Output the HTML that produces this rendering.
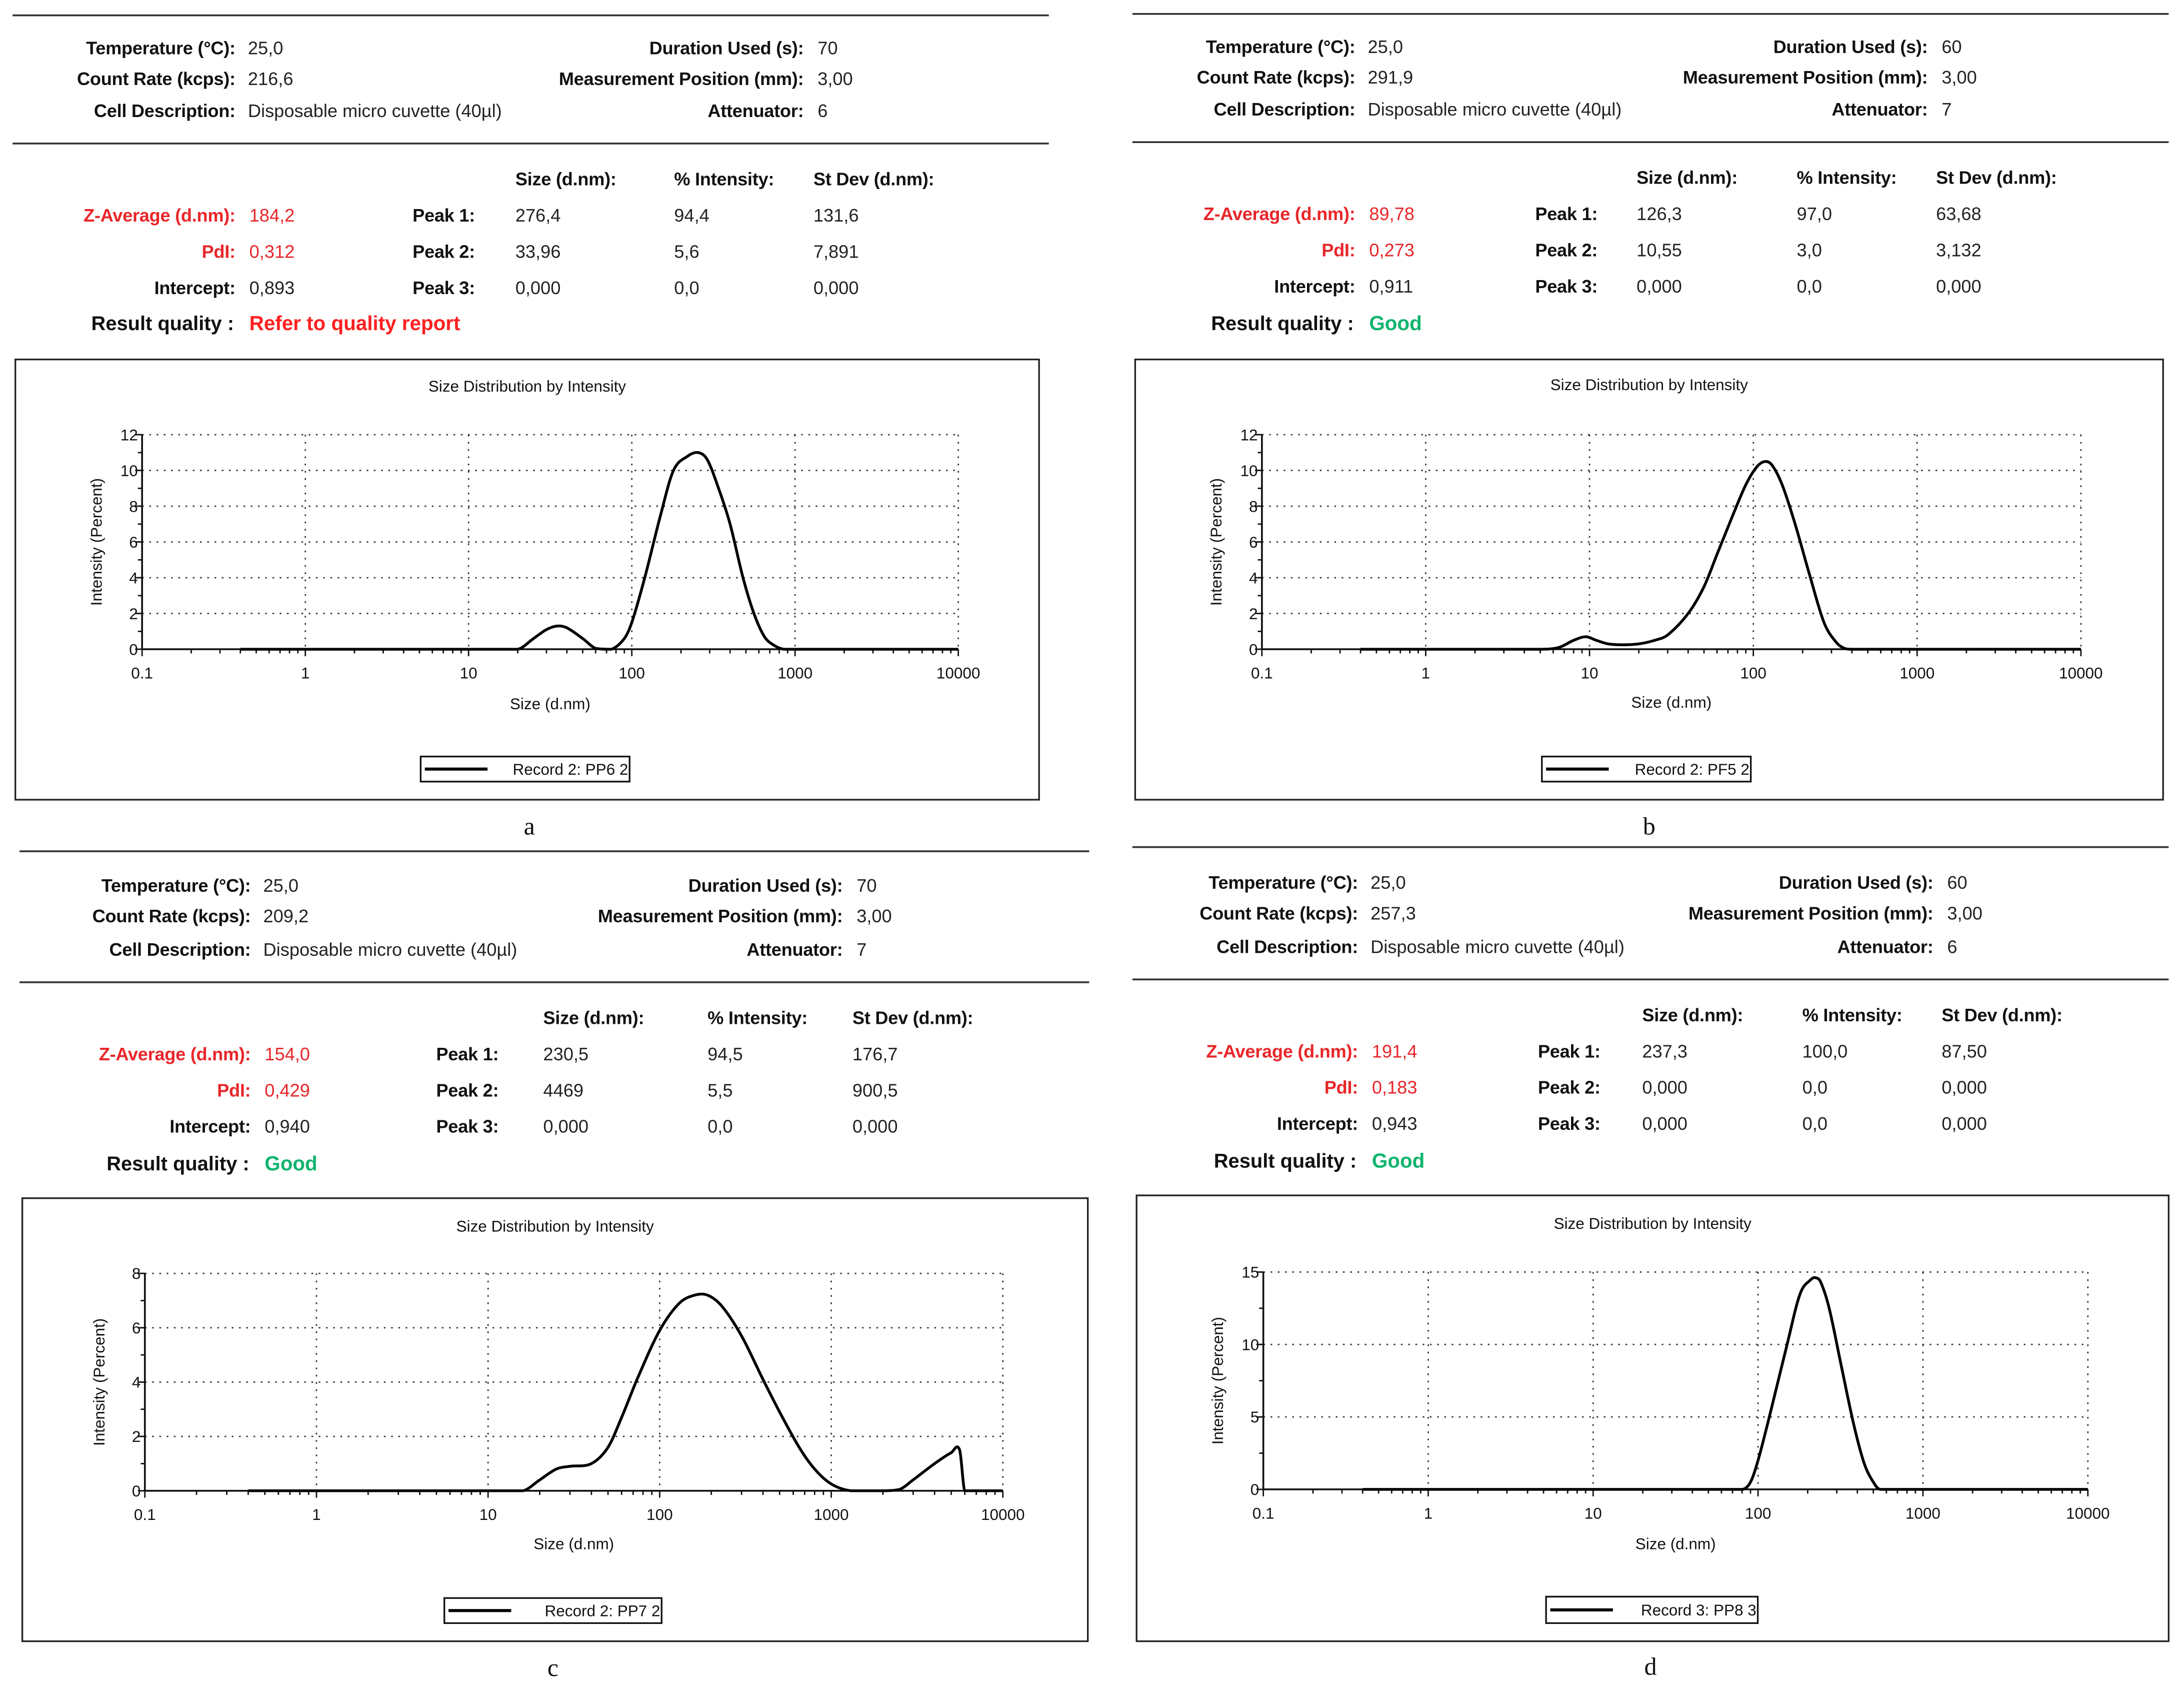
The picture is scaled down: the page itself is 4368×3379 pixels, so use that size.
<!DOCTYPE html>
<html><head><meta charset="utf-8"><style>
html,body{margin:0;padding:0;background:#fff}
svg{display:block}
text{font-family:"Liberation Sans",Arial,sans-serif}
.lb{font-weight:bold;font-size:13px;fill:#111;letter-spacing:-0.1px}
.vl{font-size:13px;fill:#222}
.red{fill:#e8262a}
.grn{fill:#10b46e;font-weight:bold;font-size:14.5px}
.rq{font-weight:bold;font-size:14.3px;fill:#111}
.sm{font-size:11.3px;fill:#111}
.cap{font-family:"Liberation Serif",serif;font-size:18px;fill:#111}
</style></head><body>
<svg id="root" width="4368" height="3379" viewBox="0 0 1568 1213" xmlns="http://www.w3.org/2000/svg">
<rect x="0" y="0" width="1568" height="1213" fill="#fff"/>
</svg>
<script>
// ---- data arrays ----
const xTickLabels = ["0.1","1","10","100","1000","10000"];
const aYTicks = [0,2,4,6,8,10,12];
const bYTicks = [0,2,4,6,8,10,12];
const cYTicks = [0,2,4,6,8];
const dYTicks = [0,5,10,15];
const aSizes  = [0.4,1,10,20,25,30,35,40,50,60,75,90,100,120,150,180,220,255,290,340,400,480,560,650,750,850,950,10000];
const aValues = [0,0,0,0,0.6,1.1,1.3,1.2,0.6,0.05,0,0.6,1.5,4,7.5,10,10.8,11,10.6,9,7,4,2,0.7,0.2,0,0,0];
const bSizes  = [0.4,1,5,6.5,8,9.5,11,13,16,20,25,30,40,50,60,75,90,105,118,130,150,180,220,270,320,360,400,10000];
const bValues = [0,0,0,0.1,0.5,0.7,0.5,0.3,0.25,0.3,0.5,0.8,2,3.5,5.3,7.5,9.2,10.2,10.5,10.3,9.2,7,4.2,1.5,0.4,0.05,0,0];
const cSizes  = [0.4,1,10,16,20,25,30,40,50,60,75,100,130,160,190,230,300,400,500,650,800,1000,1300,2000,2500,3000,4000,5000,5600,6000,10000];
const cValues = [0,0,0,0,0.4,0.8,0.9,1.0,1.6,2.7,4.2,5.9,6.9,7.2,7.2,6.8,5.7,4.1,2.9,1.6,0.8,0.25,0,0,0.05,0.4,1.0,1.4,1.5,0,0];
const dSizes  = [0.4,1,10,80,90,100,120,150,180,210,225,240,270,320,380,440,500,550,10000];
const dValues = [0,0,0,0,0.5,2,5.5,10,13.5,14.5,14.6,14.3,12.5,8.5,4.5,1.8,0.5,0,0];

const NS="http://www.w3.org/2000/svg";
const root=document.getElementById('root');
function el(tag,attrs,parent){const e=document.createElementNS(NS,tag);for(const k in attrs)e.setAttribute(k,attrs[k]);(parent||root).appendChild(e);return e;}
function txt(x,y,s,cls,anchor,parent){const t=el('text',{x:x,y:y,class:cls,'text-anchor':anchor||'start'},parent);t.textContent=s;return t;}

const panels=[
 {id:'a',line:[9,753],l1:11,l2:103,rows:[35,57,80],lR:169,rL:577,hdr:129,trow:[155,181,207],rqy:232,pk:294,cols:[370,484,584],
  info:["25,0","216,6","Disposable micro cuvette (40µl)"],rinfo:["70","3,00","6"],
  res:["184,2","0,312","0,893"],peaks:[["276,4","94,4","131,6"],["33,96","5,6","7,891"],["0,000","0,0","0,000"]],
  quality:"Refer to quality report",good:false,
  box:[11,258,746,574],plot:[102,312,688,466],ty:277,xtt:505,leg:[302,543,452,561],name:"Record 2: PP6 2",cap:[380,599],
  sizes:aSizes,vals:aValues,yt:aYTicks,ymax:12,minorY:1},
 {id:'b',line:[813,1557],l1:10,l2:102,rows:[34,56,79],lR:973,rL:1384,hdr:128,trow:[154,180,206],rqy:232,pk:1100,cols:[1175,1290,1390],
  info:["25,0","291,9","Disposable micro cuvette (40µl)"],rinfo:["60","3,00","7"],
  res:["89,78","0,273","0,911"],peaks:[["126,3","97,0","63,68"],["10,55","3,0","3,132"],["0,000","0,0","0,000"]],
  quality:"Good",good:true,
  box:[815,258,1553,574],plot:[906,312,1494,466],ty:276,xtt:504,leg:[1107,543,1257,561],name:"Record 2: PF5 2",cap:[1184,599],
  sizes:bSizes,vals:bValues,yt:bYTicks,ymax:12,minorY:1},
 {id:'c',line:[14,782],l1:611,l2:705,rows:[636,658,682],lR:180,rL:605,hdr:731,trow:[757,783,809],rqy:835,pk:311,cols:[390,508,612],
  info:["25,0","209,2","Disposable micro cuvette (40µl)"],rinfo:["70","3,00","7"],
  res:["154,0","0,429","0,940"],peaks:[["230,5","94,5","176,7"],["4469","5,5","900,5"],["0,000","0,0","0,000"]],
  quality:"Good",good:true,
  box:[16,860,781,1178],plot:[104,914,720,1070],ty:880,xtt:1108,leg:[319,1147,475,1165],name:"Record 2: PP7 2",cap:[397,1203],
  sizes:cSizes,vals:cValues,yt:cYTicks,ymax:8,minorY:1},
 {id:'d',line:[813,1557],l1:608,l2:703,rows:[634,656,680],lR:975,rL:1388,hdr:729,trow:[755,781,807],rqy:833,pk:1102,cols:[1179,1294,1394],
  info:["25,0","257,3","Disposable micro cuvette (40µl)"],rinfo:["60","3,00","6"],
  res:["191,4","0,183","0,943"],peaks:[["237,3","100,0","87,50"],["0,000","0,0","0,000"],["0,000","0,0","0,000"]],
  quality:"Good",good:true,
  box:[816,858,1557,1178],plot:[907,913,1499,1069],ty:878,xtt:1108,leg:[1110,1146,1262,1165],name:"Record 3: PP8 3",cap:[1185,1202],
  sizes:dSizes,vals:dValues,yt:dYTicks,ymax:15,minorY:2.5}
];

const leftLabels=["Temperature (°C):","Count Rate (kcps):","Cell Description:"];
const rightLabels=["Duration Used (s):","Measurement Position (mm):","Attenuator:"];
const resLabels=["Z-Average (d.nm):","PdI:","Intercept:"];
const hdrLabels=["Size (d.nm):","% Intensity:","St Dev (d.nm):"];

panels.forEach(p=>{
  const g=el('g',{});
  
  
  el('line',{x1:p.line[0],x2:p.line[1],y1:p.l1,y2:p.l1,stroke:'#333','stroke-width':1.3},g);
  el('line',{x1:p.line[0],x2:p.line[1],y1:p.l2,y2:p.l2,stroke:'#333','stroke-width':1.3},g);
  const info=el('g',{},g);
  
  
  for(let i=0;i<3;i++){
    txt(p.lR,p.rows[i]+4,leftLabels[i],'lb','end',info);
    txt(p.lR+9,p.rows[i]+4,p.info[i],'vl','start',info);
    txt(p.rL,p.rows[i]+4,rightLabels[i],'lb','end',info);
    txt(p.rL+10,p.rows[i]+4,p.rinfo[i],'vl','start',info);
  }
  const tb=el('g',{},g);
  
  
  for(let j=0;j<3;j++) txt(p.cols[j],p.hdr+4,hdrLabels[j],'lb','start',tb);
  for(let i=0;i<3;i++){
    const y=p.trow[i]+4;
    txt(p.lR,y,resLabels[i],'lb'+(i<2?' red':''),'end',tb);
    txt(p.lR+10,y,p.res[i],'vl'+(i<2?' red':''),'start',tb);
    txt(p.pk+47,y,'Peak '+(i+1)+':','lb','end',tb);
    for(let j=0;j<3;j++) txt(p.cols[j],y,p.peaks[i][j],'vl','start',tb);
  }
  txt(p.lR-1,p.rqy+5,'Result quality :','rq','end',tb);
  const q=txt(p.lR+10,p.rqy+5,p.quality,p.good?'grn':'grn red','start',tb);
  if(!p.good) q.setAttribute('style','fill:#ff1f1f');

  const c=el('g',{},g);
  
  
  const b=p.box;
  el('rect',{x:b[0],y:b[1],width:b[2]-b[0],height:b[3]-b[1],fill:'#fff',stroke:'#222','stroke-width':1.2},c);
  const t=txt((b[0]+b[2])/2,p.ty+4,'Size Distribution by Intensity','sm','middle',c);
  
  const [x0,y0,x1,y1]=p.plot;
  const xs=v=>x0+(Math.log10(v)+1)/5*(x1-x0);
  const ys=v=>y1-v/p.ymax*(y1-y0);
  for(let k=1;k<=5;k++){const x=xs(Math.pow(10,k-1));
    const gl=el('line',{x1:x,x2:x,y1:y0,y2:y1,stroke:'#333','stroke-width':1,'stroke-dasharray':'1.2,4'},c);
    }
  p.yt.forEach(v=>{if(v===0)return;const y=ys(v);
    const gl=el('line',{x1:x0,x2:x1,y1:y,y2:y,stroke:'#333','stroke-width':1,'stroke-dasharray':'1.2,4'},c);
    });
  el('line',{x1:x0,x2:x0,y1:y0,y2:y1,stroke:'#111','stroke-width':1.3},c);
  el('line',{x1:x0,x2:x1,y1:y1,y2:y1,stroke:'#111','stroke-width':1.3},c);
  for(let v=0;v<=p.ymax+1e-6;v+=p.minorY){const y=ys(v);el('line',{x1:x0-3,x2:x0,y1:y,y2:y,stroke:'#111','stroke-width':1},c);}
  p.yt.forEach(v=>{const y=ys(v);el('line',{x1:x0-5,x2:x0,y1:y,y2:y,stroke:'#111','stroke-width':1},c);
    const tl=txt(x0-3,y+4,String(v),'sm','end',c);});
  for(let k=-1;k<4;k++)for(let m=2;m<=9;m++){const x=xs(m*Math.pow(10,k));el('line',{x1:x,x2:x,y1:y1,y2:y1+3,stroke:'#111','stroke-width':1},c);}
  xTickLabels.forEach((s,i)=>{const x=xs(parseFloat(s));el('line',{x1:x,x2:x,y1:y1,y2:y1+5,stroke:'#111','stroke-width':1},c);
    const tl=txt(x,y1+21,s,'sm','middle',c);});
  const yl=txt(0,0,'Intensity (Percent)','sm','middle',c);
  yl.setAttribute('transform','translate('+(x0-29)+','+((y0+y1)/2)+') rotate(-90)');
  
  const xl=txt((x0+x1)/2,p.xtt+4,'Size (d.nm)','sm','middle',c);
  
  // smooth curve with slope-based tangents (no loops)
  const pts=p.sizes.map((s,i)=>[xs(s),ys(p.vals[i])]);
  const n=pts.length;
  const m=pts.map((pt,i)=>{
    if(i===0||i===n-1) return 0;
    const a=pts[i-1],bb=pts[i+1];
    if(a[1]===pt[1]&&pt[1]===bb[1]) return 0;
    return (bb[1]-a[1])/(bb[0]-a[0]);
  });
  let d='M'+pts[0][0].toFixed(2)+','+pts[0][1].toFixed(2);
  for(let i=0;i<n-1;i++){
    const p1=pts[i],p2=pts[i+1],dx=(p2[0]-p1[0])/3;
    const c1y=Math.min(p1[1]+m[i]*dx,y1), c2y=Math.min(p2[1]-m[i+1]*dx,y1);
    d+='C'+(p1[0]+dx).toFixed(2)+','+c1y.toFixed(2)+' '+(p2[0]-dx).toFixed(2)+','+c2y.toFixed(2)+' '+p2[0].toFixed(2)+','+p2[1].toFixed(2);
  }
  const path=el('path',{d:d,fill:'none',stroke:'#000','stroke-width':2,'stroke-linejoin':'round'},c);
  
  
  const L=p.leg;
  const lg=el('g',{},c);
  
  
  el('rect',{x:L[0],y:L[1],width:L[2]-L[0],height:L[3]-L[1],fill:'#fff',stroke:'#111','stroke-width':1.2},lg);
  el('line',{x1:L[0]+3,x2:L[0]+48,y1:(L[1]+L[3])/2,y2:(L[1]+L[3])/2,stroke:'#000','stroke-width':2.2},lg);
  txt(L[2]-1,(L[1]+L[3])/2+4,p.name,'sm','end',lg);
  const cap=txt(p.cap[0],p.cap[1],p.id,'cap','middle',g);
  
});
</script>
</body></html>
